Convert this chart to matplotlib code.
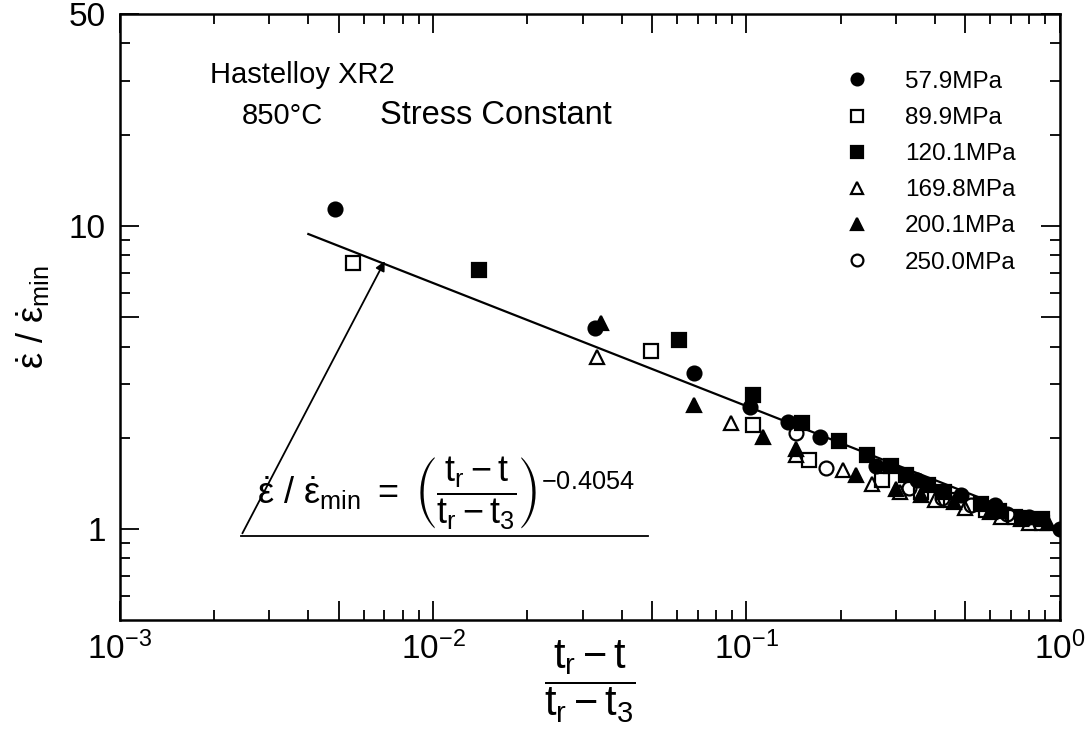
import matplotlib
matplotlib.use('Agg')
import matplotlib.pyplot as plt
from matplotlib.ticker import FixedLocator, FixedFormatter, LogLocator, NullFormatter

plt.rcParams['font.family'] = ['Liberation Sans', 'DejaVu Sans']
plt.rcParams['mathtext.fontset'] = 'custom'
plt.rcParams['mathtext.rm'] = 'Liberation Sans'
plt.rcParams['mathtext.it'] = 'Liberation Sans'
plt.rcParams['mathtext.bf'] = 'Liberation Sans:bold'
plt.rcParams['mathtext.fallback'] = 'stixsans'

# data: x = (tr - t)/(tr - t3), y = strain rate / min strain rate
x_579 = [0.00486, 0.0330, 0.0682, 0.103, 0.136, 0.172, 0.26, 0.35, 0.483, 0.62, 0.80, 1.0]
y_579 = [11.4, 4.61, 3.26, 2.52, 2.25, 2.01, 1.62, 1.45, 1.30, 1.20, 1.10, 1.0]

x_899 = [0.00554, 0.0496, 0.105, 0.158, 0.27, 0.36, 0.45, 0.58, 0.72, 0.88]
y_899 = [7.57, 3.88, 2.20, 1.69, 1.45, 1.33, 1.25, 1.16, 1.10, 1.05]

x_1201 = [0.0140, 0.0611, 0.105, 0.150, 0.197, 0.242, 0.290, 0.324, 0.381, 0.426, 0.560, 0.638, 0.757, 0.875]
y_1201 = [7.18, 4.21, 2.76, 2.24, 1.95, 1.76, 1.62, 1.51, 1.40, 1.33, 1.21, 1.15, 1.09, 1.08]

x_1698 = [0.0334, 0.0895, 0.144, 0.204, 0.251, 0.31, 0.40, 0.50, 0.65, 0.80]
y_1698 = [3.70, 2.24, 1.76, 1.57, 1.41, 1.33, 1.25, 1.17, 1.10, 1.05]

x_2001 = [0.0344, 0.0682, 0.113, 0.144, 0.224, 0.301, 0.36, 0.46, 0.60, 0.75, 0.92]
y_2001 = [4.78, 2.56, 2.01, 1.83, 1.51, 1.36, 1.30, 1.23, 1.14, 1.08, 1.05]

x_2500 = [0.144, 0.179, 0.33, 0.42, 0.52, 0.68]
y_2500 = [2.08, 1.59, 1.37, 1.27, 1.20, 1.12]

fit_x = [0.004, 1.0]
fit_y = [9.4, 1.0]

x_ticks = [1e-3, 5e-3, 1e-2, 5e-2, 1e-1, 5e-1, 1.0]
x_ticklabels = [r'$10^{-3}$', '', r'$10^{-2}$', '', r'$10^{-1}$', '', r'$10^{0}$']
y_ticks = [1, 5, 10, 50]
y_ticklabels = ['1', '', '10', '50']

series = [
    (x_579, y_579, 'o', 'k', '57.9MPa'),
    (x_899, y_899, 's', 'none', '89.9MPa'),
    (x_1201, y_1201, 's', 'k', '120.1MPa'),
    (x_1698, y_1698, '^', 'none', '169.8MPa'),
    (x_2001, y_2001, '^', 'k', '200.1MPa'),
    (x_2500, y_2500, 'o', 'none', '250.0MPa'),
]

fig = plt.figure(figsize=(10.88, 7.35), dpi=100)
ax = fig.add_axes([0.110, 0.156, 0.864, 0.825])

for xs, ys, mk, fc, lab in series:
    ax.plot(xs, ys, linestyle='none', marker=mk, markersize=10,
            markerfacecolor=fc, markeredgecolor='k', markeredgewidth=1.6,
            label=lab)

ax.plot(fit_x, fit_y, color='k', lw=1.6)

# arrow + baseline pointing at the fitted line
ax.annotate('', xy=(0.00708, 7.8), xytext=(0.00244, 0.95),
            arrowprops=dict(arrowstyle='-|>', color='k', lw=1.3, mutation_scale=14))
ax.plot([0.00244, 0.0486], [0.95, 0.95], color='k', lw=1.3)

ax.set_xscale('log')
ax.set_yscale('log')
ax.set_xlim(1e-3, 1.0)
ax.set_ylim(0.5, 50)

ax.xaxis.set_major_locator(FixedLocator(x_ticks))
ax.xaxis.set_major_formatter(FixedFormatter(x_ticklabels))
ax.xaxis.set_minor_locator(LogLocator(base=10, subs=(2, 3, 4, 6, 7, 8, 9)))
ax.xaxis.set_minor_formatter(NullFormatter())
ax.yaxis.set_major_locator(FixedLocator(y_ticks))
ax.yaxis.set_major_formatter(FixedFormatter(y_ticklabels))
ax.yaxis.set_minor_locator(LogLocator(base=10, subs=(2, 3, 4, 6, 7, 8, 9)))
ax.yaxis.set_minor_formatter(NullFormatter())

ax.tick_params(which='both', direction='in', top=True, right=True, width=1.3)
ax.tick_params(which='major', length=14, labelsize=24)
ax.tick_params(which='minor', length=7)
ax.tick_params(axis='x', which='major', pad=8)
ax.tick_params(axis='y', which='major', pad=10)
for sp in ax.spines.values():
    sp.set_linewidth(1.8)

ax.set_xlabel(r'$\dfrac{t_r - t}{t_r - t_3}$', fontsize=30)
ax.xaxis.set_label_coords(0.5, -0.03)
ax.set_ylabel(r'$\dot{\epsilon}\ /\ \dot{\epsilon}_{\mathrm{min}}$', fontsize=26, labelpad=12)

ax.text(0.096, 0.899, 'Hastelloy XR2', transform=ax.transAxes, fontsize=21, va='center')
ax.text(0.130, 0.832, '850°C', transform=ax.transAxes, fontsize=21, va='center')
ax.text(0.277, 0.832, 'Stress Constant', transform=ax.transAxes, fontsize=23.5, va='center')
ax.text(0.146, 0.21,
        r'$\dot{\epsilon}\ /\ \dot{\epsilon}_{\mathrm{min}}\ =\ \left(\dfrac{t_r - t}{t_r - t_3}\right)^{-0.4054}$',
        transform=ax.transAxes, fontsize=26, va='center')

ax.legend(loc='upper left', bbox_to_anchor=(0.771, 0.906), frameon=False,
          borderaxespad=0, borderpad=0,
          fontsize=17.5, markerscale=0.85, handlelength=1.0, handletextpad=1.5,
          labelspacing=0.58)

fig.savefig('out.png', dpi=100)
